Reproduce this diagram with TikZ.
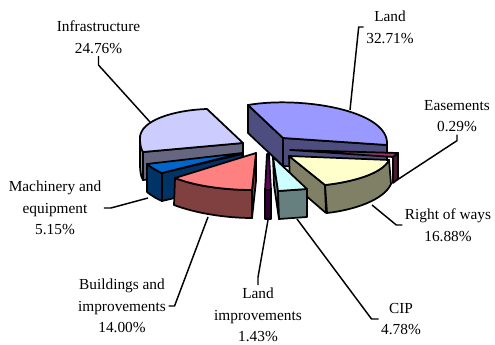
\documentclass[tikz,border=0pt]{standalone}
\usepackage{fontspec}
\setmainfont{Liberation Serif}
\usetikzlibrary{positioning}

\definecolor{landtop}{HTML}{9999FF}
\definecolor{landside}{HTML}{4D4D80}
\definecolor{easetop}{HTML}{993366}
\definecolor{easeside}{HTML}{4D1A33}
\definecolor{rowtop}{HTML}{FFFFCC}
\definecolor{rowside}{HTML}{808066}
\definecolor{ciptop}{HTML}{CCFFFF}
\definecolor{cipside}{HTML}{668080}
\definecolor{limptop}{HTML}{660066}
\definecolor{limpside}{HTML}{330033}
\definecolor{bldtop}{HTML}{FF8080}
\definecolor{bldside}{HTML}{804040}
\definecolor{machtop}{HTML}{0066CC}
\definecolor{machside}{HTML}{003366}
\definecolor{infratop}{HTML}{CCCCFF}
\definecolor{infraside}{HTML}{666680}
\definecolor{infraout}{HTML}{8F8FB0}

\begin{document}
\begin{tikzpicture}[x=0.75pt, y=-0.75pt, font=\fontsize{11.5}{16.3}\selectfont]
% Define styles
\tikzstyle{face} = [draw=black, line width=1.3pt, line join=round]
\tikzstyle{pielabel} = [align=center, inner sep=0pt, outer sep=2pt]
\tikzstyle{leaderline} = [line width=1.1pt, line join=round]

\useasboundingbox (0,0) rectangle (495,345);

% Land
\filldraw[face, fill=landside] (248,105) -- (283,138) -- (283,166) -- (248,133) -- cycle;
\filldraw[face, fill=landside] (283,138) -- (387,145) -- (387,172) -- (283,166) -- cycle;
\filldraw[face, fill=landtop] (283,138) -- (248,105) .. controls (300,96) and (390,110) .. (387,145) -- cycle;

% Easements
\filldraw[face, fill=easeside] (398,153) -- (393,157) -- (393,183) -- (398,179) -- cycle;
\filldraw[face, fill=easetop] (290,150) -- (398,153) -- (393,157) -- cycle;

% Right of ways
\filldraw[face, fill=rowside] (289,156) -- (325,185) -- (326,213) -- (290,182) -- cycle;
\filldraw[face, fill=rowside] (325,185) .. controls (352,182) and (382,174) .. (389,160) -- (391,184) .. controls (384,200) and (354,210) .. (327,213) -- cycle;
\filldraw[face, fill=rowtop] (289,156) -- (389,160) .. controls (382,174) and (352,182) .. (325,185) -- cycle;

% Infrastructure
\filldraw[face, fill=infraout] (140,136) .. controls (140,144) and (141,149) .. (143,152) -- (143,180) .. controls (141,177) and (140,172) .. (140,164) -- cycle;
\filldraw[face, fill=infraside] (143,152) -- (243,143) -- (243,171) -- (143,180) -- cycle;
\filldraw[face, fill=infratop] (243,143) -- (207,109) .. controls (175,110) and (140,120) .. (140,138) .. controls (140,145) and (141,149) .. (143,152) -- cycle;

% Machinery and equipment
\filldraw[face, fill=machside] (147,164) .. controls (152,168) and (157,171) .. (162,173) -- (162,201) .. controls (157,199) and (152,196) .. (147,192) -- cycle;
\filldraw[face, fill=machside] (162,173) -- (242,154) -- (242,182) -- (162,201) -- cycle;
\filldraw[face, fill=machtop] (147,164) -- (242,153) -- (162,173) .. controls (157,171) and (152,168) .. (147,164) -- cycle;

% Buildings and improvements
\filldraw[face, fill=bldside] (175,178) .. controls (195,186) and (225,190) .. (252,190) -- (252,218) .. controls (225,218) and (195,213) .. (174,205) -- cycle;
\filldraw[face, fill=bldside] (256,153) -- (252,190) -- (252,218) -- (256,181) -- cycle;
\filldraw[face, fill=bldtop] (175,178) -- (256,153) -- (252,190) .. controls (225,190) and (195,186) .. (175,178) -- cycle;

% Land improvements
\filldraw[face, fill=limpside] (265,190) -- (271,190) -- (271,219) -- (265,219) -- cycle;
\filldraw[face, fill=limptop] (267,154) -- (269,154) -- (271,190) -- (265,190) -- cycle;

% CIP
\filldraw[face, fill=cipside] (273,157) -- (278,191) -- (279,219) -- (274,185) -- cycle;
\filldraw[face, fill=cipside] (278,191) -- (307,189) -- (307,217) -- (279,219) -- cycle;
\filldraw[face, fill=ciptop] (273,157) -- (307,189) -- (278,191) -- cycle;

% Labels
\node[pielabel] (infra) at (98.5,37) {Infrastructure\\24.76\%};
\node[pielabel] (land) at (390,27) {Land\\32.71\%};
\node[pielabel] (eas) at (457,116) {Easements\\0.29\%};
\node[pielabel] (row) at (448,225) {Right of ways\\16.88\%};
\node[pielabel] (cip) at (401,319) {CIP\\4.78\%};
\node[pielabel] (limp) at (258,315) {Land\\improvements\\1.43\%};
\node[pielabel] (bld) at (122,306) {Buildings and\\improvements\\14.00\%};
\node[pielabel] (mach) at (55,208) {Machinery and\\equipment\\5.15\%};

% Leader ends on the slices
\coordinate (infraEnd) at (150,122);
\coordinate (landEnd) at (350,110);
\coordinate (easEnd) at (397,180);
\coordinate (rowEnd) at (372,205);
\coordinate (cipEnd) at (297,219);
\coordinate (limpEnd) at (268,220);
\coordinate (bldEnd) at (208,217);
\coordinate (machEnd) at (148,198);

% Leaders
\draw[leaderline] (infra.south) -- ++(0,9) -- (infraEnd);
\draw[leaderline] (land.west) -- ++(-5,0) -- (landEnd);
\draw[leaderline] (eas.south) -- ++(0,6) -- (easEnd);
\draw[leaderline] (row.west) -- ++(-6,0) -- (rowEnd);
\draw[leaderline] (cip.west) -- ++(-7,0) -- (cipEnd);
\draw[leaderline] (limp.north) -- ++(0,-8) -- (limpEnd);
\draw[leaderline] (bld.east) -- ++(6,0) -- (bldEnd);
\draw[leaderline] (mach.east) -- ++(7,0) -- (machEnd);
\end{tikzpicture}
\end{document}
